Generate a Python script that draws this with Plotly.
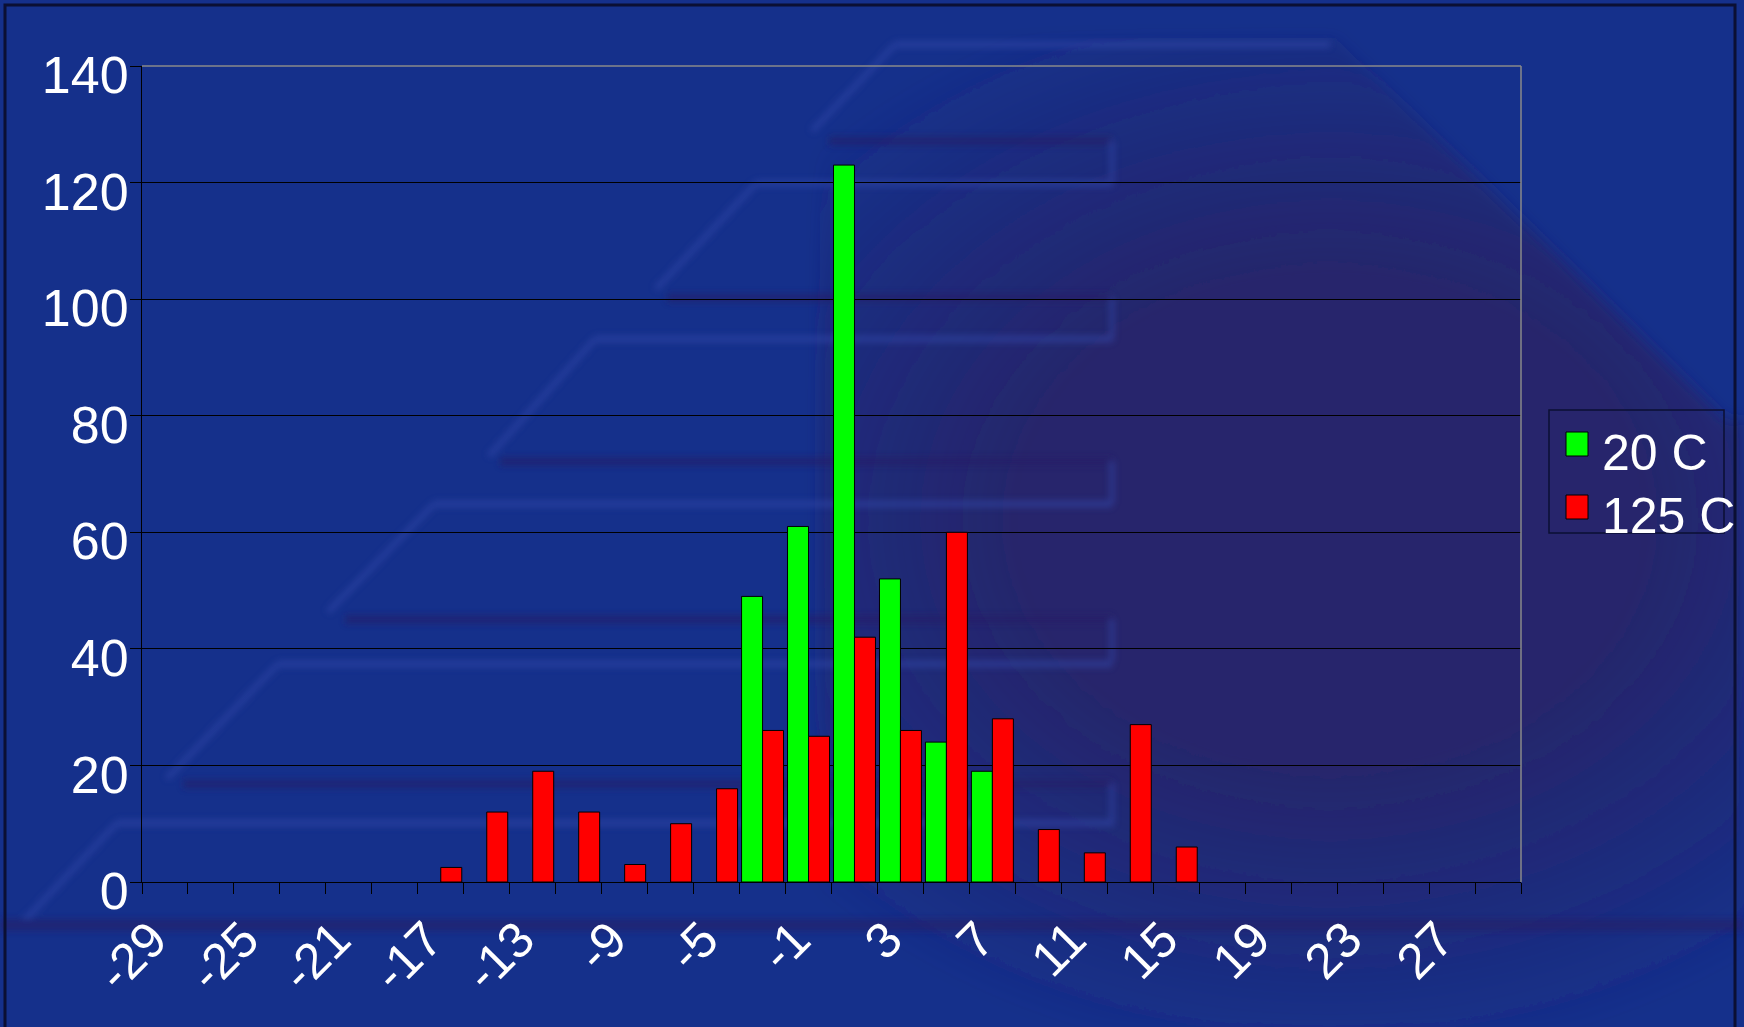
import base64
import plotly.graph_objects as go

# Histogram bins (error value) and counts per temperature
bins = [-29, -27, -25, -23, -21, -19, -17, -15, -13, -11, -9, -7, -5, -3, -1,
        1, 3, 5, 7, 9, 11, 13, 15, 17, 19, 21, 23, 25, 27, 29]
counts_20c = [0, 0, 0, 0, 0, 0, 0, 0, 0, 0, 0, 0, 0, 49, 61,
              123, 52, 24, 19, 0, 0, 0, 0, 0, 0, 0, 0, 0, 0, 0]
counts_125c = [0, 0, 0, 0, 0, 0, 2.5, 12, 19, 12, 3, 10, 16, 26, 25,
               42, 26, 60, 28, 9, 5, 27, 6, 0, 0, 0, 0, 0, 0, 0]
tick_labels = [-29, -25, -21, -17, -13, -9, -5, -1, 3, 7, 11, 15, 19, 23, 27]
series_names = ["20 C", "125 C"]
series_colors = ["#00ff00", "#ff0000"]

W, H = 1744, 1027
ML, MR, MT, MB = 142, 223, 66, 145
PW, PH = W - ML - MR, H - MT - MB


def px_x(x):
    return (x - ML) / PW


def px_y(y):
    return (H - MB - y) / PH


# Slide backdrop: blue field, stepped pyramid motif, purple shading, frame
light = "#3346a8"
dark = "#261f66"
steps = [
    # (light y, light x0, diag end x, diag end y, dark y, dark x0)
    (183.5, 756, 656, 289, 298, 667),
    (339, 595, 489, 456, 461.6, 500),
    (504, 434, 328, 612, 619.5, 345),
    (664, 278, 167, 778.5, 784, 183),
    (823, 117, 22, 923, None, None),
]
parts = ["<rect width='1744' height='1027' fill='#15308b'/>"]
parts.append("<polygon points='820,38 1335,38 1725,420 1744,420 1744,1027 820,1027' "
             "fill='url(#pg)' filter='url(#b3)'/>")
seg = [
    f"<path d='M895,44.5 L1330,44.5' stroke='{light}' stroke-width='7' fill='none'/>",
    f"<path d='M895,44.5 L812,131' stroke='{light}' stroke-width='6' fill='none'/>",
    f"<path d='M829,141 L1112,141' stroke='{dark}' stroke-width='9' fill='none'/>",
    f"<path d='M1112,141 L1112,183.5' stroke='{light}' stroke-width='5' fill='none'/>",
]
for ly, lx, dx, dy, py, px in steps:
    seg.append(f"<path d='M{lx},{ly} L1112,{ly}' stroke='{light}' stroke-width='7' fill='none'/>")
    seg.append(f"<path d='M{lx},{ly} L{dx},{dy}' stroke='{light}' stroke-width='6' fill='none'/>")
    if py is not None:
        seg.append(f"<path d='M{px},{py} L1112,{py}' stroke='{dark}' stroke-width='9' fill='none'/>")
        seg.append(f"<path d='M1112,{py} L1112,{py + 42}' stroke='{light}' "
                   f"stroke-width='5' fill='none'/>")
seg.append(f"<path d='M0,925 L1744,925' stroke='{dark}' stroke-width='12' fill='none'/>")
parts.append("<g filter='url(#b1)' opacity='0.55'>" + "".join(seg) + "</g>")
parts.append("<rect x='5' y='5' width='1730' height='1040' fill='none' stroke='#0b0f33' "
             "stroke-width='3'/>")
svg = (
    "<svg xmlns='http://www.w3.org/2000/svg' width='1744' height='1027' viewBox='0 0 1744 1027'>"
    "<defs>"
    "<filter id='b1' x='-10%' y='-10%' width='120%' height='120%'><feGaussianBlur stdDeviation='3'/></filter>"
    "<filter id='b3' x='-10%' y='-10%' width='120%' height='120%'><feGaussianBlur stdDeviation='7'/></filter>"
    "<radialGradient id='pg' gradientUnits='userSpaceOnUse' cx='1330' cy='520' r='700' "
    "gradientTransform='translate(1330,520) scale(1,0.78) translate(-1330,-520)'>"
    "<stop offset='0' stop-color='#272468' stop-opacity='0.9'/>"
    "<stop offset='0.45' stop-color='#272468' stop-opacity='0.9'/>"
    "<stop offset='1' stop-color='#272468' stop-opacity='0'/>"
    "</radialGradient>"
    "</defs>" + "".join(parts) + "</svg>"
)
bg_uri = "data:image/svg+xml;base64," + base64.b64encode(svg.encode()).decode()


def nz(vals):
    return [v if v else None for v in vals]


fig = go.Figure()
for name, color, vals in zip(series_names, series_colors, [counts_20c, counts_125c]):
    fig.add_trace(go.Bar(x=bins, y=nz(vals), name=name, showlegend=False,
                         marker=dict(color=color, line=dict(color="#000000", width=1))))

font_family = "Liberation Sans, Arial, sans-serif"

# Legend box with square swatches beside the plot
shapes = [
    dict(type="line", xref="paper", yref="paper", x0=0, x1=1, y0=1, y1=1,
         line=dict(color="#8a8a8a", width=1.5), layer="above"),
    dict(type="line", xref="paper", yref="paper", x0=1, x1=1, y0=0, y1=1,
         line=dict(color="#8a8a8a", width=1.5), layer="above"),
    dict(type="rect", xref="paper", yref="paper",
         x0=px_x(1549), x1=px_x(1724), y0=px_y(533), y1=px_y(410),
         line=dict(color="#0b0f33", width=1.5), fillcolor="rgba(0,0,0,0)"),
]
annotations = []
for i, (name, color) in enumerate(zip(series_names, series_colors)):
    cy = 444 + 63 * i
    shapes.append(dict(type="rect", xref="paper", yref="paper",
                       x0=px_x(1566), x1=px_x(1588), y0=px_y(cy + 12), y1=px_y(cy - 12),
                       line=dict(color="#000000", width=1), fillcolor=color))
    annotations.append(dict(xref="paper", yref="paper", x=px_x(1600), y=px_y(cy + 9),
                            xanchor="left", yanchor="middle", showarrow=False, text=name,
                            font=dict(size=50, color="white", family=font_family)))

fig.update_layout(
    width=W, height=H,
    margin=dict(l=ML, r=MR, t=MT, b=MB, pad=0),
    paper_bgcolor="#15308b",
    plot_bgcolor="rgba(0,0,0,0)",
    barmode="group", bargap=0.087, bargroupgap=0,
    font=dict(family=font_family, color="white"),
    showlegend=False,
    images=[dict(source=bg_uri, xref="paper", yref="paper",
                 x=-ML / PW, y=1 + MT / PH, sizex=W / PW, sizey=H / PH,
                 xanchor="left", yanchor="top", sizing="stretch", layer="below")],
    shapes=shapes,
    annotations=annotations,
)
fig.update_xaxes(
    range=[-30, 30], tickmode="array", tickvals=tick_labels,
    ticktext=[str(v) for v in tick_labels],
    ticks="outside", ticklen=11, tickcolor="rgba(0,0,0,0)", tickangle=-45,
    tickfont=dict(size=50, color="white", family=font_family),
    ticklabelshift=-13, ticklabelstandoff=-4,
    showline=True, linecolor="#000000", linewidth=1,
    showgrid=False, zeroline=False,
    minor=dict(ticks="outside", ticklen=11, tickcolor="#000000", tickwidth=1,
               dtick=2, tick0=-30, showgrid=False),
)
fig.update_yaxes(
    range=[0, 140], dtick=20, tick0=0,
    ticks="outside", ticklen=11, tickcolor="#000000", tickwidth=1,
    tickfont=dict(size=52, color="white", family=font_family),
    ticklabelstandoff=-9, ticklabelshift=9,
    showline=True, linecolor="#000000", linewidth=1,
    showgrid=True, gridcolor="#000000", gridwidth=1, zeroline=False,
)

fig.write_html("out.html")
